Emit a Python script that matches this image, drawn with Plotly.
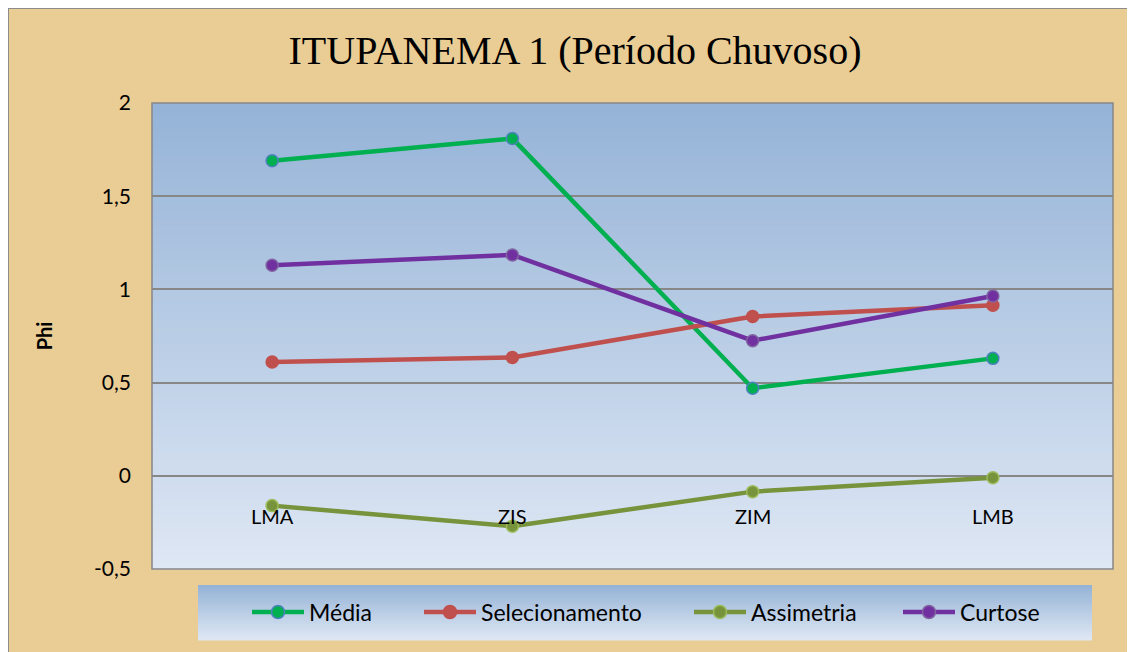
import plotly.graph_objects as go

categories = ["LMA", "ZIS", "ZIM", "LMB"]
media = [1.69, 1.81, 0.47, 0.63]
selecionamento = [0.61, 0.635, 0.855, 0.915]
assimetria = [-0.16, -0.27, -0.085, -0.01]
curtose = [1.13, 1.185, 0.725, 0.965]
y_tickvals = [-0.5, 0, 0.5, 1, 1.5, 2]
y_ticktext = ["-0,5", "0", "0,5", "1", "1,5", "2"]
series_names = ["Média", "Selecionamento", "Assimetria", "Curtose"]

W, H = 1127, 644
# plot area in figure pixel coords (page has an 8px body margin)
L, R, T, B = 144, 1105, 95, 561
FONT = "Lato, Open Sans, sans-serif"

styles = [
    ("#00B050", "#00B050", "#4F81BD"),
    ("#C0504D", "#C0504D", "#C0504D"),
    ("#77933C", "#77933C", "#9BBB59"),
    ("#7030A0", "#7030A0", "#8064A2"),
]
values = [media, selecionamento, assimetria, curtose]

fig = go.Figure()
for name, vals, (lc, mc, mlc) in zip(series_names, values, styles):
    fig.add_trace(go.Scatter(
        x=categories, y=vals, name=name, mode="lines+markers",
        line=dict(color=lc, width=4.5),
        marker=dict(color=mc, size=12, line=dict(color=mlc, width=1.5)),
        showlegend=False,
    ))


def fx(p):
    return (p - L) / (R - L)


def fy(p):
    return (B - p) / (B - T)


def lerp(c1, c2, t):
    return tuple(int(round(a + (b - a) * t)) for a, b in zip(c1, c2))


def gradient(x0, x1, y0, y1, top, bot, n=60):
    out = []
    h = (y1 - y0) / n
    for i in range(n):
        c = lerp(top, bot, i / (n - 1))
        out.append(dict(type="rect", xref="paper", yref="paper", layer="below",
                        x0=fx(x0), x1=fx(x1),
                        y0=fy(y0 + (i + 1) * h + 0.6), y1=fy(y0 + i * h),
                        line=dict(width=0), fillcolor="rgb(%d,%d,%d)" % c))
    return out


shapes = []
# parchment background with gray frame
shapes.append(dict(type="rect", xref="paper", yref="paper", layer="below",
                   x0=fx(0), x1=fx(W + 10), y0=fy(H + 10), y1=fy(0),
                   line=dict(color="#8C8C8C", width=2), fillcolor="#E9CD95"))
# plot area gradient
shapes += gradient(L, R, T, B, (149, 179, 215), (222, 231, 244))
# plot border
shapes.append(dict(type="rect", xref="paper", yref="paper", layer="below",
                   x0=0, x1=1, y0=0, y1=1, line=dict(color="#878787", width=1.5),
                   fillcolor="rgba(0,0,0,0)"))
# legend box gradient
LG_X0, LG_X1, LG_Y0, LG_Y1 = 190, 1084, 577, 632
shapes += gradient(LG_X0, LG_X1, LG_Y0, LG_Y1, (149, 179, 215), (222, 231, 244), n=30)

annotations = []
for c in categories:
    annotations.append(dict(x=c, y=0, xref="x", yref="y", text=c, showarrow=False,
                            yanchor="top", yshift=-26,
                            font=dict(family=FONT, size=20, color="#000")))

# manual legend (line sample + marker + label)
leg_y = 604
leg_line_start = [244, 416, 686, 895]
for name, x0, (lc, mc, mlc) in zip(series_names, leg_line_start, styles):
    shapes.append(dict(type="line", xref="paper", yref="paper",
                       x0=fx(x0), x1=fx(x0 + 52), y0=fy(leg_y), y1=fy(leg_y),
                       line=dict(color=lc, width=4.5)))
    shapes.append(dict(type="circle", xref="paper", yref="paper",
                       xsizemode="pixel", ysizemode="pixel",
                       xanchor=fx(x0 + 26), yanchor=fy(leg_y),
                       x0=-6.5, x1=6.5, y0=-6.5, y1=6.5,
                       fillcolor=mc, line=dict(color=mlc, width=1.5)))
    annotations.append(dict(x=fx(x0 + 55), y=fy(leg_y), xref="paper", yref="paper",
                            text=name, showarrow=False, xanchor="left", yanchor="middle",
                            font=dict(family=FONT, size=23, color="#000")))

fig.update_layout(
    width=W, height=H,
    margin=dict(l=L, r=W - R, t=T, b=H - B),
    paper_bgcolor="#E9CD95",
    plot_bgcolor="rgba(0,0,0,0)",
    title=dict(text="ITUPANEMA 1 (Período Chuvoso)", x=567 / W, xanchor="center",
               y=1 - 42 / H, yanchor="middle",
               font=dict(family="Liberation Serif, Times New Roman, serif", size=40, color="#000")),
    xaxis=dict(type="category", range=[-0.5, 3.5], showticklabels=False, showgrid=False,
               zeroline=False, showline=False, ticks=""),
    yaxis=dict(range=[-0.5, 2], tickvals=y_tickvals, ticktext=y_ticktext,
               showgrid=True, gridcolor="#878787", gridwidth=1.6, zeroline=False,
               showline=False, ticks="", ticklabelstandoff=20,
               tickfont=dict(family=FONT, size=21, color="#000"),
               title=dict(text="<b>Phi</b>", standoff=36,
                          font=dict(family=FONT, size=20, color="#000"))),
    shapes=shapes,
    annotations=annotations,
    showlegend=False,
)

fig.write_html("out.html", post_script="document.body.style.overflow='hidden';")
